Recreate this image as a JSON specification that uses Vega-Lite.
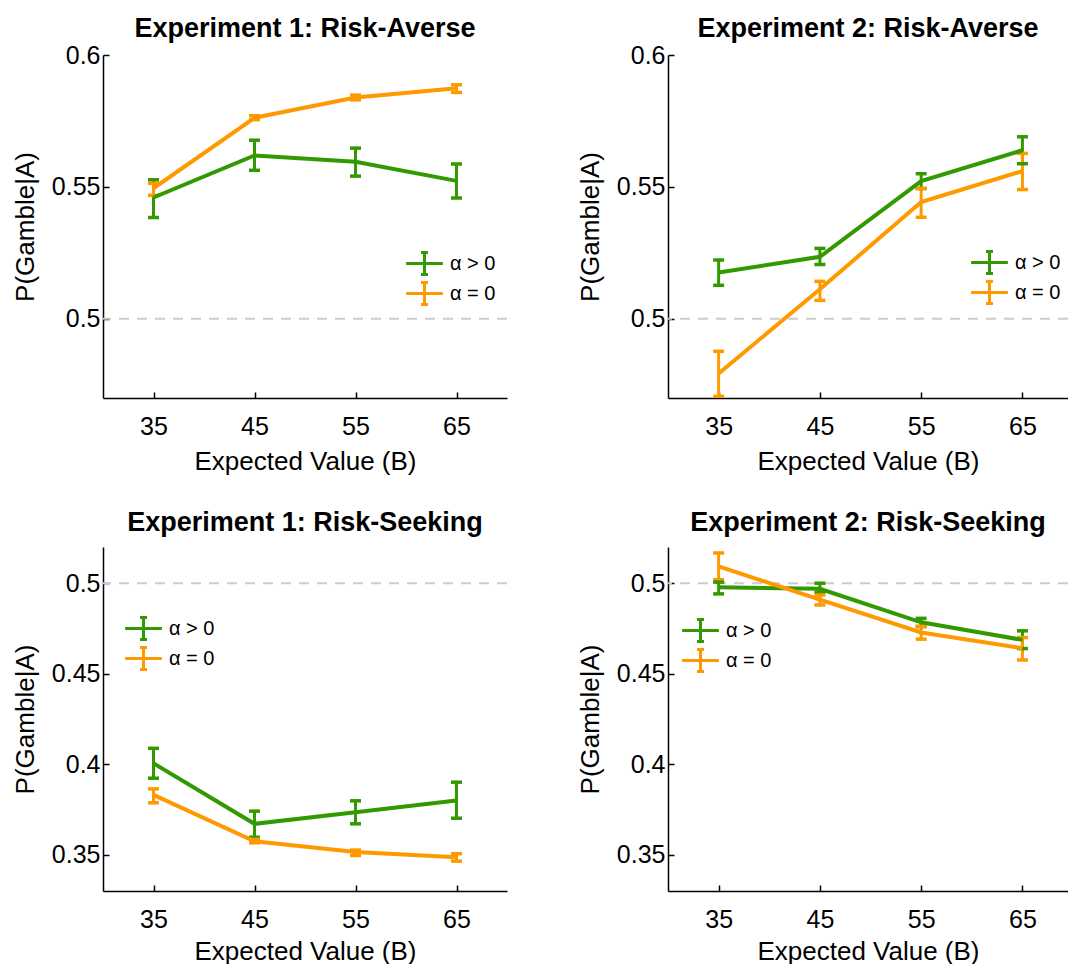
{
  "$schema": "https://vega.github.io/schema/vega-lite/v6.json",
  "background": "white",
  "padding": {"left": 12, "top": 15, "right": 0, "bottom": 0},
  "datasets": {
    "d": [
      {"panel": "E1RA", "g": "α > 0", "x": 35, "y": 0.546, "lo": 0.5384, "hi": 0.5527},
      {"panel": "E1RA", "g": "α > 0", "x": 45, "y": 0.5619, "lo": 0.5563, "hi": 0.5677},
      {"panel": "E1RA", "g": "α > 0", "x": 55, "y": 0.5595, "lo": 0.5541, "hi": 0.5647},
      {"panel": "E1RA", "g": "α > 0", "x": 65, "y": 0.5523, "lo": 0.5458, "hi": 0.5587},
      {"panel": "E1RA", "g": "α = 0", "x": 35, "y": 0.5495, "lo": 0.5468, "hi": 0.5514},
      {"panel": "E1RA", "g": "α = 0", "x": 45, "y": 0.5762, "lo": 0.5755, "hi": 0.577},
      {"panel": "E1RA", "g": "α = 0", "x": 55, "y": 0.5839, "lo": 0.583, "hi": 0.5848},
      {"panel": "E1RA", "g": "α = 0", "x": 65, "y": 0.5874, "lo": 0.5858, "hi": 0.5887},
      {"panel": "E2RA", "g": "α > 0", "x": 35, "y": 0.5176, "lo": 0.5127, "hi": 0.5223},
      {"panel": "E2RA", "g": "α > 0", "x": 45, "y": 0.5235, "lo": 0.5206, "hi": 0.5267},
      {"panel": "E2RA", "g": "α > 0", "x": 55, "y": 0.5522, "lo": 0.5494, "hi": 0.555},
      {"panel": "E2RA", "g": "α > 0", "x": 65, "y": 0.5639, "lo": 0.5588, "hi": 0.569},
      {"panel": "E2RA", "g": "α = 0", "x": 35, "y": 0.4793, "lo": 0.4706, "hi": 0.4877},
      {"panel": "E2RA", "g": "α = 0", "x": 45, "y": 0.5112, "lo": 0.507, "hi": 0.5142},
      {"panel": "E2RA", "g": "α = 0", "x": 55, "y": 0.5443, "lo": 0.5385, "hi": 0.5494},
      {"panel": "E2RA", "g": "α = 0", "x": 65, "y": 0.556, "lo": 0.549, "hi": 0.5627},
      {"panel": "E1RS", "g": "α > 0", "x": 35, "y": 0.4005, "lo": 0.3923, "hi": 0.4088},
      {"panel": "E1RS", "g": "α > 0", "x": 45, "y": 0.3671, "lo": 0.3597, "hi": 0.3741},
      {"panel": "E1RS", "g": "α > 0", "x": 55, "y": 0.3735, "lo": 0.3671, "hi": 0.3798},
      {"panel": "E1RS", "g": "α > 0", "x": 65, "y": 0.38, "lo": 0.3702, "hi": 0.3901},
      {"panel": "E1RS", "g": "α = 0", "x": 35, "y": 0.3831, "lo": 0.3787, "hi": 0.3864},
      {"panel": "E1RS", "g": "α = 0", "x": 45, "y": 0.3575, "lo": 0.3566, "hi": 0.3585},
      {"panel": "E1RS", "g": "α = 0", "x": 55, "y": 0.3515, "lo": 0.3496, "hi": 0.3526},
      {"panel": "E1RS", "g": "α = 0", "x": 65, "y": 0.3487, "lo": 0.3465, "hi": 0.3506},
      {"panel": "E2RS", "g": "α > 0", "x": 35, "y": 0.4978, "lo": 0.4941, "hi": 0.5006},
      {"panel": "E2RS", "g": "α > 0", "x": 45, "y": 0.4969, "lo": 0.495, "hi": 0.5},
      {"panel": "E2RS", "g": "α > 0", "x": 55, "y": 0.4784, "lo": 0.4761, "hi": 0.4806},
      {"panel": "E2RS", "g": "α > 0", "x": 65, "y": 0.4687, "lo": 0.4639, "hi": 0.4737},
      {"panel": "E2RS", "g": "α = 0", "x": 35, "y": 0.5093, "lo": 0.5019, "hi": 0.5167},
      {"panel": "E2RS", "g": "α = 0", "x": 45, "y": 0.4909, "lo": 0.488, "hi": 0.4935},
      {"panel": "E2RS", "g": "α = 0", "x": 55, "y": 0.4728, "lo": 0.4691, "hi": 0.4761},
      {"panel": "E2RS", "g": "α = 0", "x": 65, "y": 0.4641, "lo": 0.4576, "hi": 0.47}
    ]
  },
  "spacing": 35,
  "vconcat": [
    {
      "spacing": 69,
      "hconcat": [
        {
          "width": 404, "height": 343,
          "title": {"text": "Experiment 1: Risk-Averse", "offset": 0},
          "layer": [
            {"data": {"values": [{"ref": 0.5}]}, "mark": {"type": "rule", "color": "#cccccc", "strokeWidth": 2, "strokeDash": [10, 8]},
             "encoding": {"y": {"field": "ref", "type": "quantitative", "title": "P(Gamble|A)", "scale": {"domain": [0.47, 0.6], "nice": false, "zero": false}, "axis": {"values": [0.5, 0.55, 0.6]}}}},
            {"data": {"name": "d"}, "transform": [{"filter": "datum.panel === 'E1RA'"}], "mark": {"type": "rule", "strokeWidth": 3},
             "encoding": {"x": {"field": "x", "type": "quantitative", "title": "Expected Value (B)", "scale": {"domain": [30, 70], "nice": false, "zero": false}, "axis": {"values": [35, 45, 55, 65]}},
                          "y": {"field": "lo", "type": "quantitative", "title": "P(Gamble|A)"}, "y2": {"field": "hi"},
                          "color": {"field": "g", "type": "nominal", "scale": {"domain": ["α > 0", "α = 0"], "range": ["#339900", "#ff9900"]}}}},
            {"data": {"name": "d"}, "transform": [{"filter": "datum.panel === 'E1RA'"}], "mark": {"type": "tick", "orient": "horizontal", "size": 11, "thickness": 3.5, "opacity": 1},
             "encoding": {"x": {"field": "x", "type": "quantitative", "title": "Expected Value (B)"}, "y": {"field": "lo", "type": "quantitative", "title": "P(Gamble|A)"},
                          "color": {"field": "g", "type": "nominal"}}},
            {"data": {"name": "d"}, "transform": [{"filter": "datum.panel === 'E1RA'"}], "mark": {"type": "tick", "orient": "horizontal", "size": 11, "thickness": 3.5, "opacity": 1},
             "encoding": {"x": {"field": "x", "type": "quantitative", "title": "Expected Value (B)"}, "y": {"field": "hi", "type": "quantitative", "title": "P(Gamble|A)"},
                          "color": {"field": "g", "type": "nominal"}}},
            {"data": {"name": "d"}, "transform": [{"filter": "datum.panel === 'E1RA'"}], "mark": {"type": "line", "strokeWidth": 4},
             "encoding": {"x": {"field": "x", "type": "quantitative", "title": "Expected Value (B)"}, "y": {"field": "y", "type": "quantitative", "title": "P(Gamble|A)"},
                          "color": {"field": "g", "type": "nominal", "legend": {"orient": "none", "legendX": 309, "legendY": 196}}}}
          ]
        },
        {
          "width": 400, "height": 343,
          "title": {"text": "Experiment 2: Risk-Averse", "offset": 0},
          "layer": [
            {"data": {"values": [{"ref": 0.5}]}, "mark": {"type": "rule", "color": "#cccccc", "strokeWidth": 2, "strokeDash": [10, 8]},
             "encoding": {"y": {"field": "ref", "type": "quantitative", "title": "P(Gamble|A)", "scale": {"domain": [0.47, 0.6], "nice": false, "zero": false}, "axis": {"values": [0.5, 0.55, 0.6]}}}},
            {"data": {"name": "d"}, "transform": [{"filter": "datum.panel === 'E2RA'"}], "mark": {"type": "rule", "strokeWidth": 3, "clip": true},
             "encoding": {"x": {"field": "x", "type": "quantitative", "title": "Expected Value (B)", "scale": {"domain": [30, 69.5], "nice": false, "zero": false}, "axis": {"values": [35, 45, 55, 65]}},
                          "y": {"field": "lo", "type": "quantitative", "title": "P(Gamble|A)"}, "y2": {"field": "hi"},
                          "color": {"field": "g", "type": "nominal", "scale": {"domain": ["α > 0", "α = 0"], "range": ["#339900", "#ff9900"]}}}},
            {"data": {"name": "d"}, "transform": [{"filter": "datum.panel === 'E2RA'"}], "mark": {"type": "tick", "orient": "horizontal", "size": 11, "thickness": 3.5, "opacity": 1, "clip": true},
             "encoding": {"x": {"field": "x", "type": "quantitative", "title": "Expected Value (B)"}, "y": {"field": "lo", "type": "quantitative", "title": "P(Gamble|A)"},
                          "color": {"field": "g", "type": "nominal"}}},
            {"data": {"name": "d"}, "transform": [{"filter": "datum.panel === 'E2RA'"}], "mark": {"type": "tick", "orient": "horizontal", "size": 11, "thickness": 3.5, "opacity": 1, "clip": true},
             "encoding": {"x": {"field": "x", "type": "quantitative", "title": "Expected Value (B)"}, "y": {"field": "hi", "type": "quantitative", "title": "P(Gamble|A)"},
                          "color": {"field": "g", "type": "nominal"}}},
            {"data": {"name": "d"}, "transform": [{"filter": "datum.panel === 'E2RA'"}], "mark": {"type": "line", "strokeWidth": 4, "clip": true},
             "encoding": {"x": {"field": "x", "type": "quantitative", "title": "Expected Value (B)"}, "y": {"field": "y", "type": "quantitative", "title": "P(Gamble|A)"},
                          "color": {"field": "g", "type": "nominal", "legend": {"orient": "none", "legendX": 309, "legendY": 195}}}}
          ]
        }
      ],
      "resolve": {"scale": {"color": "independent"}, "legend": {"color": "independent"}}
    },
    {
      "spacing": 69,
      "hconcat": [
        {
          "width": 404, "height": 344,
          "title": {"text": "Experiment 1: Risk-Seeking", "offset": 10},
          "layer": [
            {"data": {"values": [{"ref": 0.5}]}, "mark": {"type": "rule", "color": "#cccccc", "strokeWidth": 2, "strokeDash": [10, 8]},
             "encoding": {"y": {"field": "ref", "type": "quantitative", "title": "P(Gamble|A)", "scale": {"domain": [0.33, 0.52], "nice": false, "zero": false}, "axis": {"values": [0.35, 0.4, 0.45, 0.5]}}}},
            {"data": {"name": "d"}, "transform": [{"filter": "datum.panel === 'E1RS'"}], "mark": {"type": "rule", "strokeWidth": 3},
             "encoding": {"x": {"field": "x", "type": "quantitative", "title": "Expected Value (B)", "scale": {"domain": [30, 70], "nice": false, "zero": false}, "axis": {"values": [35, 45, 55, 65], "titlePadding": 6}},
                          "y": {"field": "lo", "type": "quantitative", "title": "P(Gamble|A)"}, "y2": {"field": "hi"},
                          "color": {"field": "g", "type": "nominal", "scale": {"domain": ["α > 0", "α = 0"], "range": ["#339900", "#ff9900"]}}}},
            {"data": {"name": "d"}, "transform": [{"filter": "datum.panel === 'E1RS'"}], "mark": {"type": "tick", "orient": "horizontal", "size": 11, "thickness": 3.5, "opacity": 1},
             "encoding": {"x": {"field": "x", "type": "quantitative", "title": "Expected Value (B)"}, "y": {"field": "lo", "type": "quantitative", "title": "P(Gamble|A)"},
                          "color": {"field": "g", "type": "nominal"}}},
            {"data": {"name": "d"}, "transform": [{"filter": "datum.panel === 'E1RS'"}], "mark": {"type": "tick", "orient": "horizontal", "size": 11, "thickness": 3.5, "opacity": 1},
             "encoding": {"x": {"field": "x", "type": "quantitative", "title": "Expected Value (B)"}, "y": {"field": "hi", "type": "quantitative", "title": "P(Gamble|A)"},
                          "color": {"field": "g", "type": "nominal"}}},
            {"data": {"name": "d"}, "transform": [{"filter": "datum.panel === 'E1RS'"}], "mark": {"type": "line", "strokeWidth": 4},
             "encoding": {"x": {"field": "x", "type": "quantitative", "title": "Expected Value (B)"}, "y": {"field": "y", "type": "quantitative", "title": "P(Gamble|A)"},
                          "color": {"field": "g", "type": "nominal", "legend": {"orient": "none", "legendX": 28, "legendY": 69}}}}
          ]
        },
        {
          "width": 400, "height": 344,
          "title": {"text": "Experiment 2: Risk-Seeking", "offset": 10},
          "layer": [
            {"data": {"values": [{"ref": 0.5}]}, "mark": {"type": "rule", "color": "#cccccc", "strokeWidth": 2, "strokeDash": [10, 8]},
             "encoding": {"y": {"field": "ref", "type": "quantitative", "title": "P(Gamble|A)", "scale": {"domain": [0.33, 0.52], "nice": false, "zero": false}, "axis": {"values": [0.35, 0.4, 0.45, 0.5]}}}},
            {"data": {"name": "d"}, "transform": [{"filter": "datum.panel === 'E2RS'"}], "mark": {"type": "rule", "strokeWidth": 3},
             "encoding": {"x": {"field": "x", "type": "quantitative", "title": "Expected Value (B)", "scale": {"domain": [30, 69.5], "nice": false, "zero": false}, "axis": {"values": [35, 45, 55, 65], "titlePadding": 6}},
                          "y": {"field": "lo", "type": "quantitative", "title": "P(Gamble|A)"}, "y2": {"field": "hi"},
                          "color": {"field": "g", "type": "nominal", "scale": {"domain": ["α > 0", "α = 0"], "range": ["#339900", "#ff9900"]}}}},
            {"data": {"name": "d"}, "transform": [{"filter": "datum.panel === 'E2RS'"}], "mark": {"type": "tick", "orient": "horizontal", "size": 11, "thickness": 3.5, "opacity": 1},
             "encoding": {"x": {"field": "x", "type": "quantitative", "title": "Expected Value (B)"}, "y": {"field": "lo", "type": "quantitative", "title": "P(Gamble|A)"},
                          "color": {"field": "g", "type": "nominal"}}},
            {"data": {"name": "d"}, "transform": [{"filter": "datum.panel === 'E2RS'"}], "mark": {"type": "tick", "orient": "horizontal", "size": 11, "thickness": 3.5, "opacity": 1},
             "encoding": {"x": {"field": "x", "type": "quantitative", "title": "Expected Value (B)"}, "y": {"field": "hi", "type": "quantitative", "title": "P(Gamble|A)"},
                          "color": {"field": "g", "type": "nominal"}}},
            {"data": {"name": "d"}, "transform": [{"filter": "datum.panel === 'E2RS'"}], "mark": {"type": "line", "strokeWidth": 4},
             "encoding": {"x": {"field": "x", "type": "quantitative", "title": "Expected Value (B)"}, "y": {"field": "y", "type": "quantitative", "title": "P(Gamble|A)"},
                          "color": {"field": "g", "type": "nominal", "legend": {"orient": "none", "legendX": 20, "legendY": 71}}}}
          ]
        }
      ],
      "resolve": {"scale": {"color": "independent"}, "legend": {"color": "independent"}}
    }
  ],
  "resolve": {"scale": {"color": "independent"}, "legend": {"color": "independent"}},
  "config": {
    "font": "Liberation Sans",
    "view": {"stroke": null},
    "title": {"fontSize": 27, "fontWeight": "bold", "color": "black", "anchor": "middle"},
    "axis": {
      "grid": false,
      "domainColor": "black", "domainWidth": 1.5,
      "tickColor": "black", "tickWidth": 1.5, "tickSize": -6,
      "labelFontSize": 25, "labelColor": "black", "format": "~g",
      "titleFontSize": 26, "titleFontWeight": "normal", "titleColor": "black"
    },
    "axisX": {"labelPadding": 22, "titlePadding": 9},
    "axisY": {"labelPadding": 9, "titlePadding": 13},
    "legend": {
      "title": null,
      "padding": 0,
      "symbolType": "M-1.67,0H1.67M0,-1V1M-0.32,-1H0.32M-0.32,1H0.32",
      "symbolSize": 484,
      "symbolStrokeWidth": 3,
      "symbolOpacity": 1,
      "labelFontSize": 20,
      "labelColor": "black",
      "labelOffset": 13,
      "rowPadding": -7
    }
  }
}
